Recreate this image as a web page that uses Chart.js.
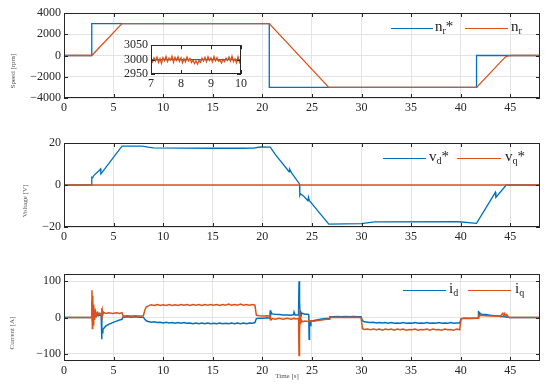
<!DOCTYPE html>
<html>
<head>
<meta charset="utf-8">
<script src="https://cdn.jsdelivr.net/npm/chart.js@4.4.0/dist/chart.umd.min.js"></script>
<style>
  body { margin: 0; background: #fff; }
  #wrap { position: relative; width: 550px; height: 387px; font-family: "Liberation Serif", serif; }
  #wrap canvas { position: absolute; left: 0; }
  .lab { position: absolute; font-size: 7px; color: #555; white-space: nowrap; transform: translate(-50%, -50%); }
  .rot { transform: translate(-50%, -50%) rotate(-90deg); }
  .legline { position: absolute; height: 0; border-top: 1.5px solid; }
  .legtxt { position: absolute; font-size: 15px; color: #222; white-space: nowrap; line-height: 1; transform: translateY(-55%); }
  .legtxt sub { font-size: 10px; vertical-align: -3px; }
</style>
</head>
<body>
<div id="wrap">
  <canvas id="speedChart" width="550" height="125" style="top:0"></canvas>
  <canvas id="insetChart" width="142" height="57" style="left:108px;top:35px"></canvas>
  <canvas id="voltChart" width="550" height="125" style="top:130px"></canvas>
  <canvas id="curChart" width="550" height="126" style="top:261px"></canvas>
  <div class="lab rot" style="left:13px;top:71px">Speed [rpm]</div>
  <div class="lab rot" style="left:25px;top:201px">Voltage [V]</div>
  <div class="lab rot" style="left:12px;top:333px">Current [A]</div>
  <div class="lab" style="left:287px;top:376px">Time [s]</div>
</div>
<script>
// Datos
const BLUE = '#0072BD';
const ORANGE = '#D95319';

const xTickVals = [0, 5, 10, 15, 20, 25, 30, 35, 40, 45];

// velocidad
const speedRefTime = [0, 2.8, 2.8, 20.7, 20.7, 41.6, 41.6, 48];
const speedRef = [0, 0, 3000, 3000, -3000, -3000, 0, 0];
const speedTime = [0, 2.8, 5.85, 20.7, 26.7, 41.6, 44.3, 44.55, 44.8, 45.1, 48];
const speed = [0, 0, 3000, 3000, -3000, -3000, -340, -120, -30, 0, 0];
const speedTicks = [-4000, -2000, 0, 2000, 4000];

// zoom 7-10 s
const insetTime = [7.00, 7.05, 7.10, 7.15, 7.20, 7.25, 7.30, 7.35, 7.40, 7.45, 7.50, 7.55, 7.60, 7.65, 7.70, 7.75, 7.80, 7.85, 7.90, 7.95,
  8.00, 8.05, 8.10, 8.15, 8.20, 8.25, 8.30, 8.35, 8.40, 8.45, 8.50, 8.55, 8.60, 8.65, 8.70, 8.75, 8.80, 8.85, 8.90, 8.95,
  9.00, 9.05, 9.10, 9.15, 9.20, 9.25, 9.30, 9.35, 9.40, 9.45, 9.50, 9.55, 9.60, 9.65, 9.70, 9.75, 9.80, 9.85, 9.90, 9.95, 10.00];
const insetSpeed = [3002, 2992, 3006, 2995, 3009, 2990, 3004, 2987, 3007, 2996, 3011, 2993, 3005, 2998, 3012, 2991, 3008, 2997, 3010, 2994,
  3006, 2989, 3003, 2992, 3009, 2996, 3004, 2990, 2999, 2986, 2995, 2984, 2997, 2991, 3005, 2995, 3008, 2993, 3010, 2997,
  3006, 2992, 3011, 2996, 3007, 2994, 2998, 2988, 3001, 2993, 3005, 2997, 3009, 2995, 3012, 2993, 3003, 2989, 3010, 2991, 3004];
const insetRefTime = [7, 10];
const insetRef = [3000, 3000];
const insetXTicks = [7, 8, 9, 10];
const insetYTicks = [2950, 3000, 3050];

// tension
const vdTime = [0, 2.78, 2.8, 2.9, 3.0, 3.3, 3.55, 3.7, 3.72, 3.8, 5.85, 7.9, 8.5, 9.0, 12, 15, 18, 19.1, 19.8, 20.8,
  21.3, 22.5, 22.7, 22.75, 22.95, 23.75, 23.78, 23.85, 24.2, 24.6, 24.65, 24.75, 26.7, 30, 31.3, 39.8, 41.6,
  43.5, 43.55, 44.6, 48];
const vd = [0, 0, 3.7, 3.5, 4.5, 5.8, 6.9, 7.7, 5.3, 5.8, 18.5, 18.5, 18.0, 17.7, 17.6, 17.5, 17.5, 17.6, 18.1, 18.0,
  14.6, 7.5, 6.3, 7.6, 5.8, 0.5, -5.0, -4.2, -5.5, -7.5, -5.8, -7.5, -18.6, -18.4, -17.6, -17.5, -18.3,
  -3.5, -5.9, 0, 0];
const vqTime = [0, 48];
const vq = [0, 0];
const voltTicks = [-20, 0, 20];

// corriente
const curTime = [0, 2.78, 2.82, 2.86, 2.9, 2.95, 3.0, 3.05, 3.1, 3.15, 3.2, 3.3, 3.4, 3.5, 3.6, 3.75, 3.8, 3.83, 3.87, 3.92,
  4.0, 4.2, 4.5, 4.9, 5.3, 5.6, 5.85, 5.95, 6.4, 6.8, 7.2, 7.6, 8.0, 8.15, 8.3, 8.5, 8.8, 9.1, 9.4, 9.7,
  10.0, 10.3, 10.6, 10.9, 11.2, 11.5, 11.8, 12.1, 12.4, 12.7, 13.0, 13.3, 13.6, 13.9, 14.2, 14.5, 14.8, 15.1, 15.4, 15.7,
  16.0, 16.3, 16.6, 16.9, 17.2, 17.5, 17.8, 18.1, 18.4, 18.7, 19.0, 19.25, 19.4, 19.7, 20.1, 20.5, 20.75, 20.8, 20.85, 20.9,
  21.0, 21.3, 21.7, 22.1, 22.5, 22.9, 23.15, 23.2, 23.3, 23.65, 23.7, 23.73, 23.77, 23.81, 23.86, 23.92, 24.0, 24.3, 24.6, 24.68,
  24.72, 24.76, 24.82, 24.9, 25.2, 25.6, 26.0, 26.4, 26.75, 26.8, 27.2, 27.6, 28.0, 28.4, 28.8, 29.2, 29.6, 29.95, 30.1, 30.3,
  30.6, 30.9, 31.2, 31.5, 31.8, 32.1, 32.4, 32.7, 33.0, 33.3, 33.6, 33.9, 34.2, 34.5, 34.8, 35.1, 35.4, 35.7, 36.0, 36.3,
  36.6, 36.9, 37.2, 37.5, 37.8, 38.1, 38.4, 38.7, 39.0, 39.3, 39.6, 39.9, 40.05, 40.4, 40.8, 41.2, 41.6, 41.75, 41.8, 41.85,
  41.9, 42.1, 42.5, 43.0, 43.5, 43.9, 44.0, 44.25, 44.35, 44.45, 44.55, 44.65, 44.8, 44.9, 48];
const curD = [0, 0, 45, -8, 35, -5, 22, 0, 15, 3, 12, 4, 9, 5, 7, 5, -60, -32, -42, -33,
  -30, -24, -19, -14, -10, -7, -5, 1, 2, 1, 2, 1, 1, -5, -9, -11, -13, -12, -14, -13,
  -15, -13, -15, -14, -16, -14, -16, -14, -16, -15, -17, -15, -17, -15, -17, -15, -17, -16, -17, -15,
  -17, -16, -17, -15, -17, -15, -17, -15, -17, -15, -16, -14, -3, -2, -2, -1, -2, 20, 8, 14,
  10, 9, 8, 7, 7, 6, 8, 15, 7, 7, 100, -5, 45, 2, 18, 6, 12, 9, 9, 8,
  -60, -12, -22, -10, -8, -6, -4, -3, -2, 2, 2, 3, 2, 3, 2, 3, 2, 2, -9, -12,
  -13, -14, -13, -15, -14, -15, -14, -16, -14, -16, -15, -16, -14, -16, -15, -16, -14, -16, -15, -16,
  -14, -16, -15, -16, -14, -16, -15, -16, -14, -16, -15, -15, -3, -2, -3, -2, -2, -2, 18, 8,
  13, 9, 8, 6, 5, 4, 3, 3, 2, 2, 2, 1, 1, 0, 0];
const curQ = [0, 0, 75, -30, 60, -20, 35, -5, 22, 4, 16, 7, 14, 9, 12, 10, 26, 4, 18, 8,
  14, 11, 13, 11, 13, 11, 13, 4, 5, 4, 5, 4, 5, 20, 29, 32, 35, 33, 36, 33,
  35, 33, 36, 33, 35, 33, 36, 34, 36, 33, 36, 34, 36, 33, 36, 34, 36, 34, 36, 33,
  36, 34, 37, 34, 36, 34, 37, 34, 36, 34, 36, 34, 6, 5, 4, 5, 4, -6, -2, -6,
  -3, -5, -2, -5, -2, -5, -3, -2, -4, -3, -105, 25, -45, 8, -18, -6, -12, -10, -11, -9,
  -12, -8, -10, -9, -10, -8, -7, -5, -5, 1, 0, 1, 0, 1, 0, 1, 0, 0, -31, -33,
  -32, -34, -32, -34, -32, -35, -32, -34, -32, -35, -32, -34, -32, -35, -33, -34, -32, -35, -33, -34,
  -32, -35, -32, -34, -33, -35, -32, -34, -33, -35, -32, -34, -3, -2, -2, -3, -2, -2, 4, 6,
  5, 6, 5, 4, 4, 5, 3, 12, 5, 11, 4, 8, 2, 0, 0];
const curTicks = [-100, 0, 100];

function pts(xs, ys) {
  return xs.map((x, i) => ({ x: x, y: ys[i] }));
}

// caja estilo matlab con ticks hacia dentro
const boxPlugin = {
  id: 'box',
  beforeDraw(chart, args, opts) {
    if (!opts.fill) return;
    const a = chart.chartArea;
    chart.ctx.save();
    chart.ctx.fillStyle = '#fff';
    chart.ctx.fillRect(a.left, a.top, a.right - a.left, a.bottom - a.top);
    chart.ctx.restore();
  },
  afterDraw(chart) {
    const { ctx, chartArea: a, scales } = chart;
    const t = 4;
    ctx.save();
    ctx.strokeStyle = '#262626';
    ctx.lineWidth = 1;
    ctx.beginPath();
    scales.x.ticks.forEach(tk => {
      const px = Math.round(scales.x.getPixelForValue(tk.value)) + 0.5;
      ctx.moveTo(px, a.bottom); ctx.lineTo(px, a.bottom - t);
      ctx.moveTo(px, a.top); ctx.lineTo(px, a.top + t);
    });
    scales.y.ticks.forEach(tk => {
      const py = Math.round(scales.y.getPixelForValue(tk.value)) + 0.5;
      ctx.moveTo(a.left, py); ctx.lineTo(a.left + t, py);
      ctx.moveTo(a.right, py); ctx.lineTo(a.right - t, py);
    });
    ctx.stroke();
    ctx.strokeRect(Math.round(a.left) + 0.5, Math.round(a.top) + 0.5,
      Math.round(a.right - a.left) - 1, Math.round(a.bottom - a.top) - 1);
    ctx.restore();
  }
};

const tickFont = { family: '"Liberation Serif", serif', size: 12 };
const minus = v => String(v).replace('-', '\u2212');

function lineSet(data, color, order, width) {
  return { data: data, borderColor: color, borderWidth: width || 1.3, pointRadius: 0, tension: 0, order: order };
}

function makeChart(id, datasets, cfg) {
  return new Chart(document.getElementById(id), {
    type: 'line',
    data: { datasets: datasets },
    options: {
      responsive: false,
      animation: false,
      layout: { padding: cfg.pad },
      plugins: { legend: { display: false }, tooltip: { enabled: false }, box: { fill: !!cfg.fill } },
      scales: {
        x: {
          type: 'linear', min: cfg.xMin, max: cfg.xMax,
          afterBuildTicks: s => { s.ticks = cfg.xTicks.map(v => ({ value: v })); },
          afterFit: s => { s.height = cfg.xHeight; },
          ticks: { font: tickFont, color: '#262626', padding: 3, maxRotation: 0, autoSkip: false, callback: minus },
          grid: { display: cfg.grid, color: '#e3e3e3', drawTicks: false },
          border: { display: false }
        },
        y: {
          min: cfg.yMin, max: cfg.yMax,
          afterBuildTicks: s => { s.ticks = cfg.yTicks.map(v => ({ value: v })); },
          afterFit: s => { s.width = cfg.yWidth; },
          ticks: { font: tickFont, color: '#262626', padding: 3, autoSkip: false, callback: minus },
          grid: { display: cfg.grid, color: '#e3e3e3', drawTicks: false },
          border: { display: false }
        }
      }
    },
    plugins: [boxPlugin]
  });
}

makeChart('speedChart', [
  lineSet(pts(speedRefTime, speedRef), BLUE, 1),
  lineSet(pts(speedTime, speed), ORANGE, 0)
], { pad: { top: 13, right: 10, left: 0, bottom: 0 }, xMin: 0, xMax: 48, xTicks: xTickVals, xHeight: 27,
  yMin: -4000, yMax: 4000, yTicks: speedTicks, yWidth: 64, grid: true });

makeChart('insetChart', [
  lineSet(pts(insetRefTime, insetRef), BLUE, 1),
  lineSet(pts(insetTime, insetSpeed), ORANGE, 0)
], { pad: { top: 8, right: 5, left: 0, bottom: 0 }, xMin: 7, xMax: 10, xTicks: insetXTicks, xHeight: 18,
  yMin: 2950, yMax: 3050, yTicks: insetYTicks, yWidth: 43, grid: false, fill: true });

makeChart('voltChart', [
  lineSet(pts(vdTime, vd), BLUE, 1),
  lineSet(pts(vqTime, vq), ORANGE, 0)
], { pad: { top: 13, right: 10, left: 0, bottom: 0 }, xMin: 0, xMax: 48, xTicks: xTickVals, xHeight: 28,
  yMin: -20, yMax: 20, yTicks: voltTicks, yWidth: 64, grid: true });

makeChart('curChart', [
  lineSet(pts(curTime, curD), BLUE, 1, 1.5),
  lineSet(pts(curTime, curQ), ORANGE, 0, 1.5)
], { pad: { top: 13, right: 10, left: 0, bottom: 0 }, xMin: 0, xMax: 48, xTicks: xTickVals, xHeight: 26,
  yMin: -120, yMax: 120, yTicks: curTicks, yWidth: 64, grid: true });

// leyendas
const legends = [
  { y: 28, items: [[391, 433, 435, BLUE, 'n<sub>r</sub>*'], [465, 508, 511, ORANGE, 'n<sub>r</sub>']] },
  { y: 158, items: [[383, 426, 429, BLUE, 'v<sub>d</sub>*'], [457, 501, 505, ORANGE, 'v<sub>q</sub>*']] },
  { y: 290, items: [[403, 446, 449, BLUE, 'i<sub>d</sub>'], [468, 511, 515, ORANGE, 'i<sub>q</sub>']] }
];
const wrap = document.getElementById('wrap');
legends.forEach(lg => {
  lg.items.forEach(([x1, x2, tx, color, html]) => {
    const ln = document.createElement('div');
    ln.className = 'legline';
    ln.style.cssText = `left:${x1}px;width:${x2 - x1}px;top:${lg.y}px;border-color:${color}`;
    wrap.appendChild(ln);
    const tt = document.createElement('div');
    tt.className = 'legtxt';
    tt.style.cssText = `left:${tx}px;top:${lg.y}px`;
    tt.innerHTML = html;
    wrap.appendChild(tt);
  });
});
</script>
</body>
</html>
